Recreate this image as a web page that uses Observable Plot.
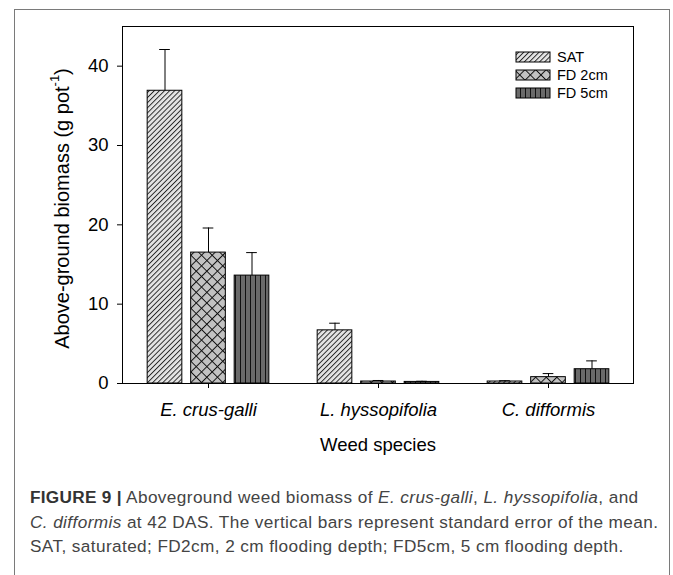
<!DOCTYPE html>
<html><head><meta charset="utf-8">
<script src="https://cdn.jsdelivr.net/npm/d3@7"></script>
<script src="https://cdn.jsdelivr.net/npm/@observablehq/plot@0.6"></script>
<style>
body{margin:0;background:#fff;font-family:"Liberation Sans",Arial,sans-serif;}
#fig{position:absolute;left:14px;top:9px;width:654px;height:700px;border:1px solid #7a7a7a;border-bottom:none;}
#chart{position:absolute;left:0;top:0;}
#caption{position:absolute;left:30px;top:485px;font-size:17.2px;letter-spacing:0.4px;line-height:24.5px;color:#444;white-space:nowrap;}
#caption b{color:#333;letter-spacing:0.3px;}
</style></head><body>
<div id="fig"></div>
<div id="chart"></div>
<div id="caption"><b>FIGURE 9 |</b> Aboveground weed biomass of <i>E. crus-galli</i>, <i>L. hyssopifolia</i>, and<br><i>C. difformis</i> at 42 DAS. The vertical bars represent standard error of the mean.<br>SAT, saturated; FD2cm, 2 cm flooding depth; FD5cm, 5 cm flooding depth.</div>
<script>
// ---- data ----
const species = ["E. crus-galli", "L. hyssopifolia", "C. difformis"];
const treatments = ["SAT", "FD 2cm", "FD 5cm"];
const satMean = [36.9, 6.7, 0.25];
const satSE   = [5.2, 0.9, 0.1];
const fd2Mean = [16.5, 0.25, 0.8];
const fd2SE   = [3.1, 0.13, 0.45];
const fd5Mean = [13.6, 0.2, 1.8];
const fd5SE   = [2.9, 0.08, 1.05];
const yTicks = [0, 10, 20, 30, 40];
const xLabel = "Weed species";
const yLabel = "Above-ground biomass (g pot";
const yLabelSup = "-1";

// ---- layout / style ----
const W = 673, H = 470, mL = 122, mR = 40, mT = 26, mB = 87;
const band = (W - mL - mR) / species.length;
const barW = 35, step = 43.5, capHalf = 5.5;
const patIds = ["pSAT", "pFD2", "pFD5"];

const means = [satMean, fd2Mean, fd5Mean];
const ses = [satSE, fd2SE, fd5SE];

const defs = () => {
  const g = d3.create("svg:g");
  const d = g.append("defs");
  let p = d.append("pattern").attr("id", "pSAT").attr("patternUnits", "userSpaceOnUse")
    .attr("width", 3.6).attr("height", 10).attr("patternTransform", "rotate(45)");
  p.append("rect").attr("width", 3.6).attr("height", 10).attr("fill", "#e4e4e4");
  p.append("line").attr("x1", 0.5).attr("x2", 0.5).attr("y1", 0).attr("y2", 10).attr("stroke", "#111").attr("stroke-width", 0.9);
  p = d.append("pattern").attr("id", "pFD2").attr("patternUnits", "userSpaceOnUse")
    .attr("width", 7.5).attr("height", 7.5).attr("patternTransform", "rotate(45)");
  p.append("rect").attr("width", 7.5).attr("height", 7.5).attr("fill", "#c2c2c2");
  p.append("path").attr("d", "M0.5,0V7.5M0,0.5H7.5").attr("stroke", "#111").attr("stroke-width", 1);
  p = d.append("pattern").attr("id", "pFD5").attr("patternUnits", "userSpaceOnUse")
    .attr("width", 5).attr("height", 10);
  p.append("rect").attr("width", 5).attr("height", 10).attr("fill", "#6a6a6a");
  p.append("line").attr("x1", 0.5).attr("x2", 0.5).attr("y1", 0).attr("y2", 10).attr("stroke", "#111").attr("stroke-width", 1);
  return g.node();
};

const barMarks = [];
treatments.forEach((t, i) => {
  const k = i - 1;
  const rows = species.map((s, j) => ({species: s, value: means[i][j], se: ses[i][j]}));
  const inL = band / 2 + k * step - barW / 2;
  barMarks.push(Plot.barY(rows, {
    x: "species", y: "value", fill: `url(#${patIds[i]})`, stroke: "#000", strokeWidth: 1,
    insetLeft: inL, insetRight: band - inL - barW
  }));
  barMarks.push(Plot.ruleX(rows, {
    x: "species", y1: "value", y2: d => d.value + d.se, dx: k * step, stroke: "#000", strokeWidth: 1
  }));
  barMarks.push(Plot.tickY(rows, {
    x: "species", y: d => d.value + d.se, dx: k * step, stroke: "#000", strokeWidth: 1,
    insetLeft: band / 2 - capHalf, insetRight: band / 2 - capHalf
  }));
});

const yTitle = (index, scales, values, dim) => {
  const cy = (dim.marginTop + dim.height - dim.marginBottom) / 2 + 4;
  const t = d3.create("svg:text")
    .attr("transform", `translate(${dim.marginLeft - 60},${cy}) rotate(-90)`)
    .attr("text-anchor", "middle").attr("dominant-baseline", "central")
    .attr("font-size", 20).attr("fill", "#000");
  t.append("tspan").text(yLabel);
  t.append("tspan").attr("font-size", 13).attr("dy", "-8").text(yLabelSup);
  t.append("tspan").attr("dy", "8").text(")");
  return t.node();
};

const legend = (index, scales, values, dim) => {
  const g = d3.create("svg:g");
  const x0 = dim.width - dim.marginRight - 117, y0 = dim.marginTop + 31;
  treatments.forEach((t, i) => {
    g.append("rect").attr("x", x0).attr("y", y0 + i * 18 - 5).attr("width", 34).attr("height", 10)
      .attr("fill", `url(#${patIds[i]})`).attr("stroke", "#000").attr("stroke-width", 1);
    g.append("text").attr("x", x0 + 41).attr("y", y0 + i * 18).attr("dominant-baseline", "central")
      .attr("text-anchor", "start").attr("font-size", 14.5).attr("fill", "#000").text(t);
  });
  return g.node();
};

const chart = Plot.plot({
  width: W, height: H, marginLeft: mL, marginRight: mR, marginTop: mT, marginBottom: mB,
  style: {fontFamily: "Liberation Sans, Arial, sans-serif", background: "transparent", color: "#000", overflow: "visible"},
  x: {domain: species, padding: 0},
  y: {domain: [0, 45]},
  marks: [
    defs,
    ...barMarks,
    Plot.frame({stroke: "#000", strokeWidth: 1}),
    Plot.axisY({ticks: yTicks, tickSize: 5, tickPadding: 9, fontSize: 18.5, label: null}),
    Plot.axisX({tickSize: 5, tickPadding: 14, fontSize: 18.5, fontStyle: "italic", label: null}),
    Plot.text([xLabel], {frameAnchor: "bottom", dy: 67, fontSize: 18.5}),
    yTitle,
    legend
  ]
});
document.getElementById("chart").appendChild(chart);
</script>
</body></html>
